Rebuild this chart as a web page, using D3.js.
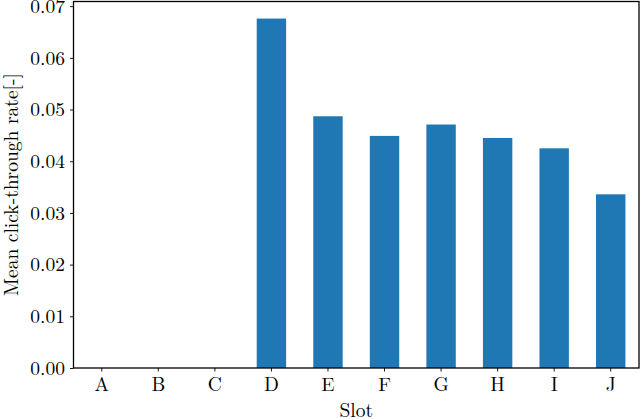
<!DOCTYPE html>
<html>
<head>
<meta charset="utf-8">
<script src="https://cdn.jsdelivr.net/npm/d3@7"></script>
<style>
  body { margin: 0; background: #fff; }
</style>
</head>
<body>
<div id="chart"></div>
<script>
// data
var slots = ["A", "B", "C", "D", "E", "F", "G", "H", "I", "J"];
var ctr = [0, 0, 0, 0.0676, 0.0487, 0.0449, 0.0471, 0.0445, 0.0425, 0.0336];
var yTicks = [0, 0.01, 0.02, 0.03, 0.04, 0.05, 0.06, 0.07];

var fontName = "'Latin Modern Roman'";
var fontSize = "19.5px";

var svgWidth = 640;
var svgHeight = 419;
var margin = { top: 1.5, right: 1, bottom: 51, left: 73.5 };
var width = svgWidth - margin.left - margin.right;
var height = svgHeight - margin.top - margin.bottom;

var svg = d3.select("#chart")
  .append("svg")
  .attr("width", svgWidth)
  .attr("height", svgHeight)
  .append("g")
  .attr("transform", "translate(" + margin.left + "," + margin.top + ")");

// scales
var xScale = d3.scaleBand()
  .domain(slots)
  .range([0, width])
  .paddingInner(0.48)
  .paddingOuter(0.24);

var yScale = d3.scaleLinear()
  .domain([0, 0.0709])
  .range([height, 0]);

// bars
svg.selectAll("rect.bar")
  .data(slots)
  .enter()
  .append("rect")
  .attr("class", "bar")
  .attr("x", function(d) { return xScale(d); })
  .attr("width", xScale.bandwidth())
  .attr("y", function(d, i) { return yScale(ctr[i]); })
  .attr("height", function(d, i) { return height - yScale(ctr[i]); })
  .attr("fill", "#1f77b4");

// axes
var bottomAxis = d3.axisBottom(xScale).tickSize(3.5).tickPadding(6);
var leftAxis = d3.axisLeft(yScale)
  .tickValues(yTicks)
  .tickFormat(d3.format(".2f"))
  .tickSize(3.5)
  .tickPadding(5);

var gx = svg.append("g")
  .attr("transform", "translate(0," + height + ")")
  .call(bottomAxis);
var gy = svg.append("g").call(leftAxis);

[gx, gy].forEach(function(g) {
  g.attr("font-family", null).attr("font-size", null);
  g.select(".domain").remove();
  g.selectAll(".tick line").attr("stroke", "#000").attr("stroke-width", 0.9);
  g.selectAll(".tick text")
    .style("font-family", fontName)
    .style("font-size", fontSize)
    .attr("fill", "#000");
});
gx.selectAll(".tick text").attr("dy", "0.71em");

// frame
svg.append("rect")
  .attr("x", 0)
  .attr("y", 0)
  .attr("width", width)
  .attr("height", height)
  .attr("fill", "none")
  .attr("stroke", "#000")
  .attr("stroke-width", 1.3);

// axis labels
svg.append("text")
  .attr("x", width / 2)
  .attr("y", height + 49)
  .attr("text-anchor", "middle")
  .style("font-family", fontName)
  .style("font-size", fontSize)
  .text("Slot");

svg.append("text")
  .attr("transform", "rotate(-90)")
  .attr("x", -183)
  .attr("y", -56)
  .attr("text-anchor", "middle")
  .style("font-family", fontName)
  .style("font-size", fontSize)
  .text("Mean click-through rate[-]");
</script>
</body>
</html>
